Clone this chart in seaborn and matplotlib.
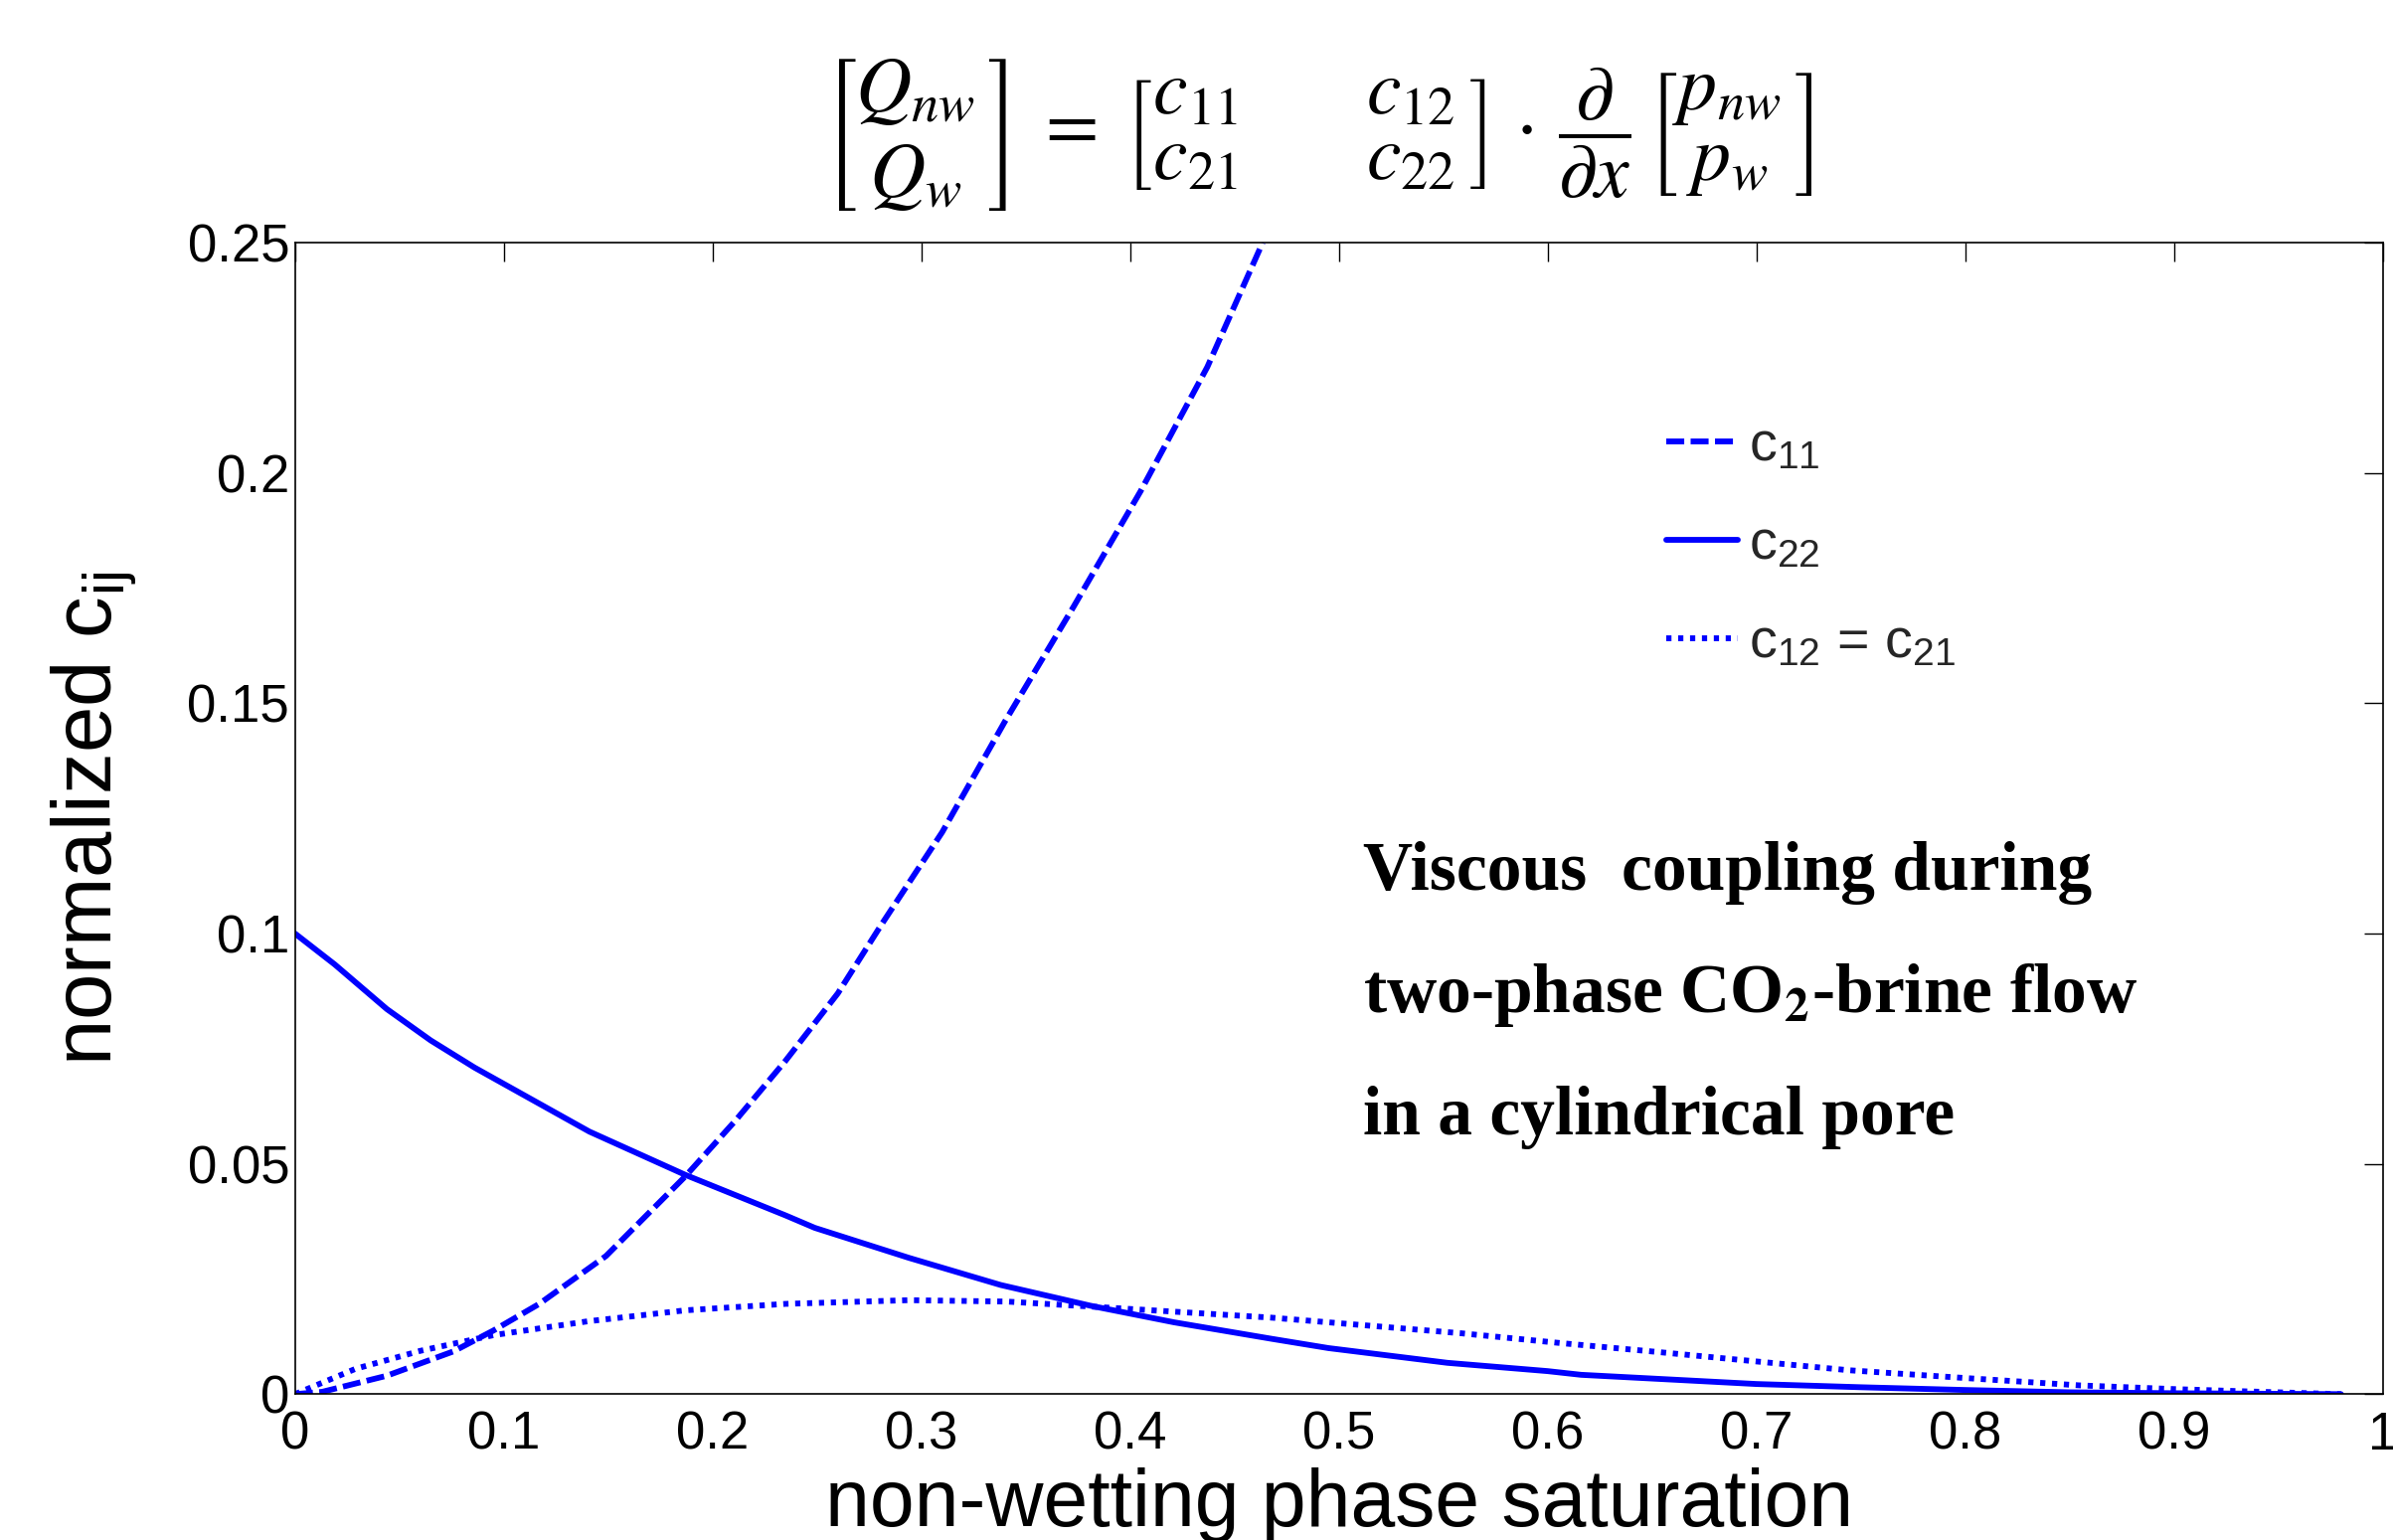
import matplotlib
matplotlib.use("Agg")
import matplotlib.pyplot as plt
import seaborn as sns
import pandas as pd

# ---- data ----
c11_x = [0, 0.013, 0.044, 0.076, 0.095, 0.117, 0.149, 0.187, 0.211, 0.235, 0.26,
         0.281, 0.31, 0.34, 0.373, 0.405, 0.437, 0.4635]
c11_y = [0, 0.0005, 0.004, 0.0093, 0.0138, 0.0196, 0.030, 0.0473, 0.0594, 0.0724, 0.087,
         0.102, 0.122, 0.146, 0.171, 0.196, 0.223, 0.25]

c22_x = [0, 0.019, 0.044, 0.065, 0.086, 0.141, 0.187, 0.235, 0.249, 0.294, 0.338, 0.381,
         0.421, 0.468, 0.495, 0.552, 0.600, 0.616, 0.700, 0.75, 0.80, 0.85, 0.90, 0.98]
c22_y = [0.1, 0.0933, 0.0836, 0.0768, 0.0709, 0.057, 0.0476, 0.0388, 0.0361, 0.0296, 0.0237,
         0.0192, 0.0156, 0.0120, 0.0100, 0.0068, 0.0050, 0.0042, 0.0022, 0.0015, 0.0009,
         0.0004, 0.0002, 0.0]

c12_x = [0, 0.029, 0.060, 0.095, 0.140, 0.187, 0.235, 0.294, 0.341, 0.389, 0.468, 0.511,
         0.559, 0.606, 0.654, 0.700, 0.744, 0.800, 0.855, 0.900, 0.935, 0.98]
c12_y = [0, 0.0055, 0.0094, 0.0128, 0.0158, 0.0182, 0.0196, 0.0204, 0.0201, 0.0188, 0.0166,
         0.0150, 0.0132, 0.0111, 0.0091, 0.0071, 0.0052, 0.0035, 0.0019, 0.0011, 0.0006, 0.0]

series_labels = [r"c$_{11}$", r"c$_{22}$", r"c$_{12}$ = c$_{21}$"]

x_ticks = [0, 0.1, 0.2, 0.3, 0.4, 0.5, 0.6, 0.7, 0.8, 0.9, 1]
x_ticklabels = ["0", "0.1", "0.2", "0.3", "0.4", "0.5", "0.6", "0.7", "0.8", "0.9", "1"]
y_ticks = [0, 0.05, 0.1, 0.15, 0.2, 0.25]
y_ticklabels = ["0", "0.05", "0.1", "0.15", "0.2", "0.25"]

annotation_lines = ["Viscous  coupling during",
                    r"two-phase CO$_\mathbf{2}$-brine flow",
                    "in a cylindrical pore"]

# ---- style ----
sns.set_style("white")
plt.rcParams["font.family"] = ["Liberation Sans", "DejaVu Sans"]
plt.rcParams["mathtext.fontset"] = "custom"
plt.rcParams["mathtext.rm"] = "Liberation Sans"
plt.rcParams["mathtext.it"] = "Liberation Sans:italic"
plt.rcParams["mathtext.bf"] = "Liberation Sans:bold"

W, H = 2407, 1549
fig = plt.figure(figsize=(W / 100, H / 100), dpi=100)
ax = fig.add_axes([296.7 / W, 1 - 1402.3 / H, 2100 / W, 1158.3 / H])

blue = "#0000ff"
lw = 4.2
df11 = pd.DataFrame({"x": c11_x, "y": c11_y})
df22 = pd.DataFrame({"x": c22_x, "y": c22_y})
df12 = pd.DataFrame({"x": c12_x, "y": c12_y})

sns.lineplot(data=df11, x="x", y="y", ax=ax, color=blue, linewidth=lw,
             linestyle=(0, (3.1, 1.1)), label=series_labels[0])
sns.lineplot(data=df22, x="x", y="y", ax=ax, color=blue, linewidth=lw,
             linestyle="-", label=series_labels[1])
sns.lineplot(data=df12, x="x", y="y", ax=ax, color=blue, linewidth=lw,
             linestyle=(0, (0.9, 1.15)), label=series_labels[2])

ax.set_xlim(0, 1)
ax.set_ylim(0, 0.25)
ax.set_xticks(x_ticks)
ax.set_xticklabels(x_ticklabels)
ax.set_yticks(y_ticks)
ax.set_yticklabels(y_ticklabels)

for side in ["top", "right", "bottom", "left"]:
    ax.spines[side].set_visible(True)
    ax.spines[side].set_color("black")
    ax.spines[side].set_linewidth(1.2)

ax.tick_params(axis="both", which="major", direction="in", length=14, width=1.0,
               color="black", top=True, right=True, labelsize=38, labelcolor="black")
ax.tick_params(axis="x", pad=12)
ax.tick_params(axis="y", pad=4)

ax.set_xlabel("non-wetting phase saturation", fontsize=58, color="black")
ax.xaxis.label.set_va("baseline")
ax.xaxis.set_label_coords(0.5, -(1535 - 1402.3) / 1158.3)

ax.set_ylabel(r"normalized c$_{\mathregular{ij}}$", fontsize=60, color="black")
ax.yaxis.label.set_va("baseline")
ax.yaxis.set_label_coords(-(296.7 - 113) / 2100, 0.5)

leg = ax.legend(loc="upper left", bbox_to_anchor=(1676 / W, 1 - 423 / H),
                bbox_transform=fig.transFigure, frameon=False, fontsize=40,
                handlelength=1.3, handletextpad=0.2, labelspacing=0.85,
                borderaxespad=0, borderpad=0)

# annotation text
ann_baselines = [895, 1018, 1141]
for line, yb in zip(annotation_lines, ann_baselines):
    ax.text((1371 - 296.7) / 2100, (1402.3 - yb) / 1158.3, line,
            transform=ax.transAxes, ha="left", va="baseline",
            fontsize=50, fontweight="bold", family="Liberation Serif",
            math_fontfamily="stix", color="black")

# equation title
eq = (r"$\genfrac{[}{]}{0}{0}{Q_{nw}}{Q_{w}}\;=\;"
      r"\genfrac{[}{}{0}{0}{c_{11}}{c_{21}}\qquad\genfrac{}{]}{0}{0}{c_{12}}{c_{22}}"
      r"\,\cdot\,\dfrac{\partial}{\partial x}\,\genfrac{[}{]}{0}{0}{p_{nw}}{p_{w}}$")
fig.text(1326 / W, 1 - 136 / H, eq, ha="center", va="center", fontsize=56,
         math_fontfamily="stix", color="black")

fig.savefig("out.png", dpi=100, facecolor="white")
